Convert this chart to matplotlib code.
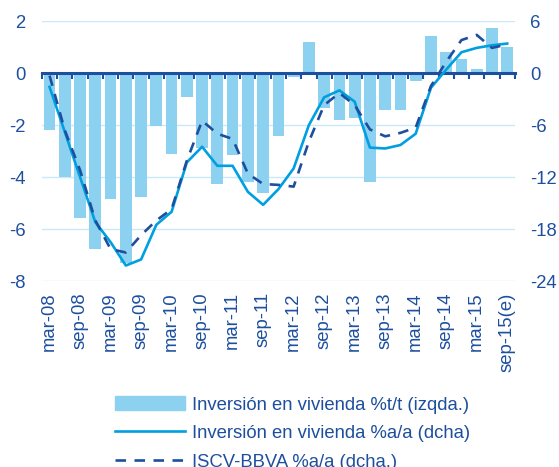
import numpy as np
import matplotlib
matplotlib.use("Agg")
import matplotlib.pyplot as plt
from matplotlib.lines import Line2D
from matplotlib.patches import Patch

plt.rcParams['font.family'] = ['Liberation Sans', 'DejaVu Sans']
plt.rcParams['axes.unicode_minus'] = False

# quarterly, mar-08 .. sep-15(e)
quarters = ['mar-08', 'jun-08', 'sep-08', 'dic-08', 'mar-09', 'jun-09', 'sep-09', 'dic-09',
            'mar-10', 'jun-10', 'sep-10', 'dic-10', 'mar-11', 'jun-11', 'sep-11', 'dic-11',
            'mar-12', 'jun-12', 'sep-12', 'dic-12', 'mar-13', 'jun-13', 'sep-13', 'dic-13',
            'mar-14', 'jun-14', 'sep-14', 'dic-14', 'mar-15', 'jun-15', 'sep-15(e)']

# Inversión en vivienda %t/t (izqda.)
inv_tt = [-2.2, -4.0, -5.56, -6.76, -4.83, -7.3, -4.77, -2.03,
          -3.13, -0.91, -2.9, -4.28, -3.15, -4.18, -4.6, -2.42,
          -0.14, 1.18, -1.35, -1.82, -1.73, -4.19, -1.41, -1.42,
          -0.32, 1.41, 0.81, 0.55, 0.14, 1.74, 0.99]

# Inversión en vivienda %a/a (dcha)
inv_aa = [-1.6, -6.8, -12.0, -17.2, -19.5, -22.2, -21.5, -17.5,
          -16.0, -10.3, -8.5, -10.7, -10.7, -13.7, -15.2, -13.4,
          -11.0, -6.0, -2.8, -2.0, -3.3, -8.6, -8.7, -8.3,
          -7.0, -1.7, 0.4, 2.4, 2.9, 3.2, 3.4]

# ISCV-BBVA %a/a (dcha.)
iscv_aa = [-0.3, -6.6, -11.2, -17.0, -20.3, -20.7, -18.7, -17.0,
           -15.7, -10.1, -5.5, -7.0, -7.6, -11.6, -12.8, -12.9,
           -13.1, -7.9, -3.7, -2.3, -3.7, -6.5, -7.3, -6.9,
           -6.3, -1.5, 1.3, 3.8, 4.4, 2.9, 3.3]

left_ticks = [-8, -6, -4, -2, 0, 2]
right_ticks = [-24, -18, -12, -6, 0, 6]

c_bar = '#8DD1F1'
c_line = '#009FE0'
c_dark = '#1D4F9E'
c_grid = '#C8EAF8'
fs = 13.3

fig = plt.figure(figsize=(5.59, 4.67), dpi=100)
ax = fig.add_axes([0.075, 0.398, 0.846, 0.557])
ax2 = ax.twinx()

x = np.arange(len(quarters))

for y in left_ticks:
    if y != 0:
        ax.axhline(y, color=c_grid, lw=1, zorder=0)

ax.bar(x, inv_tt, width=0.77, color=c_bar, zorder=2)
ax2.plot(x, inv_aa, color=c_line, lw=1.9, zorder=3)
ax2.plot(x, iscv_aa, color=c_dark, lw=1.9, dashes=(4, 3.2), zorder=3)

ax.set_xlim(-0.5, len(quarters) - 0.5)
ax.set_ylim(-8, 2)
ax2.set_ylim(-24, 6)
ax.set_yticks(left_ticks)
ax2.set_yticks(right_ticks)

for a in (ax, ax2):
    for s in ['top', 'left', 'right']:
        a.spines[s].set_visible(False)
ax2.spines['bottom'].set_visible(False)

# zero line with quarter tick marks
ax.spines['bottom'].set_position(('data', 0))
ax.spines['bottom'].set_color(c_dark)
ax.spines['bottom'].set_linewidth(2.2)
ax.spines['bottom'].set_zorder(4)
ax.set_xticks(np.arange(-0.5, len(quarters), 1.0))
ax.tick_params(axis='x', direction='out', length=4, width=1.5, color=c_dark, labelbottom=False)

ax.tick_params(axis='y', length=0, pad=12, labelsize=fs, labelcolor=c_dark)
ax2.tick_params(axis='y', length=0, pad=11, labelsize=fs, labelcolor=c_dark)

sec = ax.secondary_xaxis(0)
sec.set_xticks(x[::2])
sec.set_xticklabels(quarters[::2], rotation=90)
sec.tick_params(length=0, pad=8, labelsize=fs, labelcolor=c_dark)
sec.spines['bottom'].set_visible(False)

handles = [Patch(color=c_bar),
           Line2D([], [], color=c_line, lw=1.9),
           Line2D([], [], color=c_dark, lw=1.9, dashes=(4, 3.2))]
labels = ['Inversión en vivienda %t/t (izqda.)',
          'Inversión en vivienda %a/a (dcha)',
          'ISCV-BBVA %a/a (dcha.)']
leg = fig.legend(handles, labels, loc='upper left', bbox_to_anchor=(0.206, 0.152),
                 frameon=False, fontsize=fs, handlelength=3.8, handleheight=0.8,
                 handletextpad=0.38, labelspacing=0.6, borderaxespad=0, borderpad=0)
for t in leg.get_texts():
    t.set_color(c_dark)

fig.savefig('out.png', dpi=100)
